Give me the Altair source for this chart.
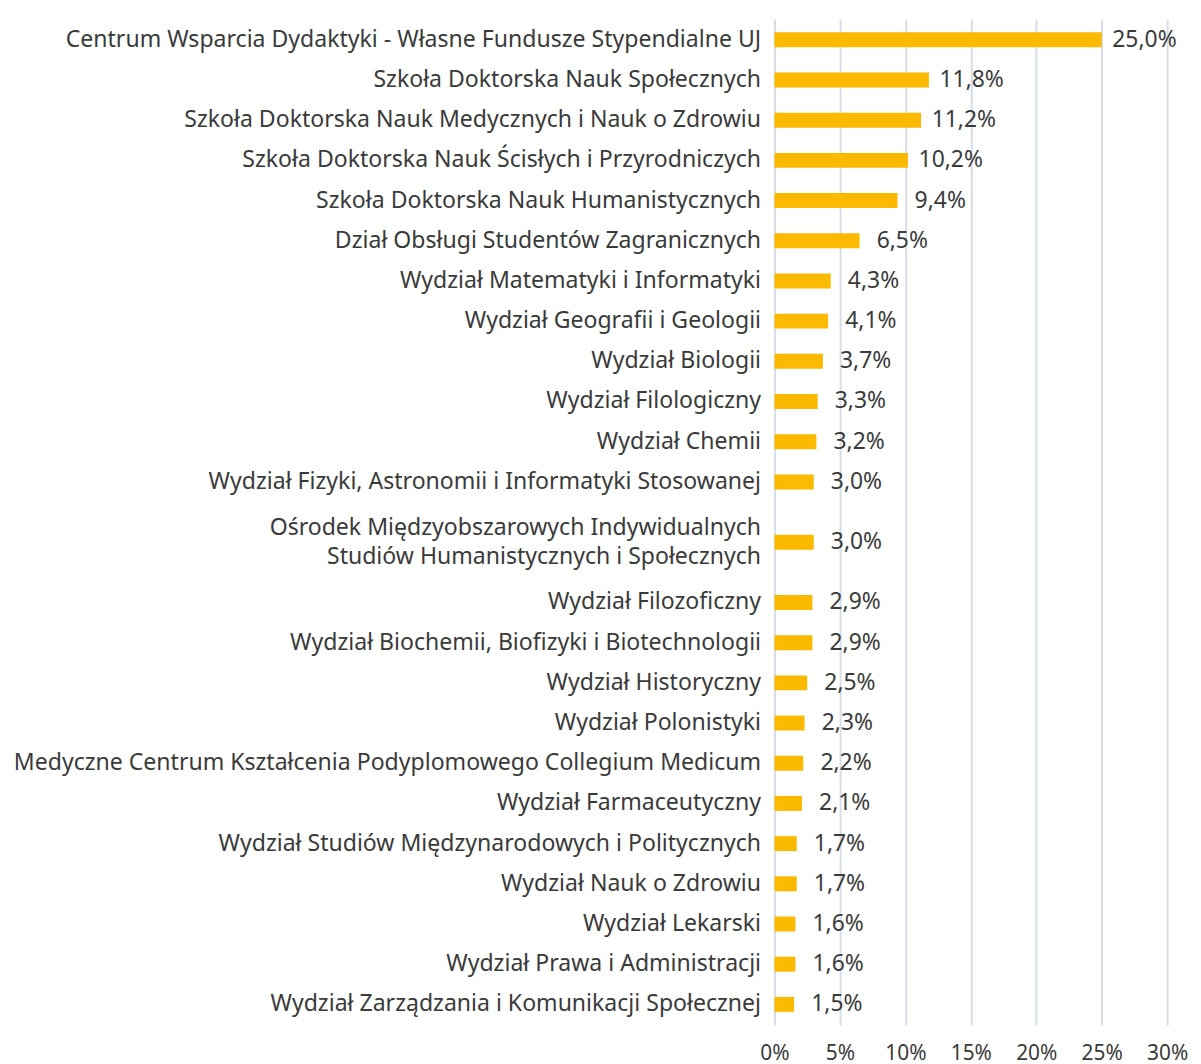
import altair as alt
import pandas as pd

categories = [
    "Centrum Wsparcia Dydaktyki - Własne Fundusze Stypendialne UJ",
    "Szkoła Doktorska Nauk Społecznych",
    "Szkoła Doktorska Nauk Medycznych i Nauk o Zdrowiu",
    "Szkoła Doktorska Nauk Ścisłych i Przyrodniczych",
    "Szkoła Doktorska Nauk Humanistycznych",
    "Dział Obsługi Studentów Zagranicznych",
    "Wydział Matematyki i Informatyki",
    "Wydział Geografii i Geologii",
    "Wydział Biologii",
    "Wydział Filologiczny",
    "Wydział Chemii",
    "Wydział Fizyki, Astronomii i Informatyki Stosowanej",
    "Ośrodek Międzyobszarowych Indywidualnych|Studiów Humanistycznych i Społecznych",
    "Wydział Filozoficzny",
    "Wydział Biochemii, Biofizyki i Biotechnologii",
    "Wydział Historyczny",
    "Wydział Polonistyki",
    "Medyczne Centrum Kształcenia Podyplomowego Collegium Medicum",
    "Wydział Farmaceutyczny",
    "Wydział Studiów Międzynarodowych i Politycznych",
    "Wydział Nauk o Zdrowiu",
    "Wydział Lekarski",
    "Wydział Prawa i Administracji",
    "Wydział Zarządzania i Komunikacji Społecznej",
]
values = [25.0, 11.8, 11.2, 10.2, 9.4, 6.5, 4.3, 4.1, 3.7, 3.3, 3.2, 3.0, 3.0,
          2.9, 2.9, 2.5, 2.3, 2.2, 2.1, 1.7, 1.7, 1.6, 1.6, 1.5]
x_ticks = [0, 0.05, 0.10, 0.15, 0.20, 0.25, 0.30]

TWO_LINE = categories[12]
SPACER = "__spacer__"
domain = categories[:13] + [SPACER] + categories[13:]

df = pd.DataFrame({"name": categories, "share": [v / 100 for v in values]})
df["label"] = [f"{v:.1f}%".replace(".", ",") for v in values]

FONT = "Noto Sans"
TEXT = "#3A3A3A"
BAR = "#FBB900"
PLOT_H = 1012
PAD_IN, PAD_OUT = 0.628, 0.33
step = PLOT_H / (len(domain) - PAD_IN + 2 * PAD_OUT)
half = step / 2

is_two = f"datum.name === '{TWO_LINE}'"
not_two = f"datum.name !== '{TWO_LINE}'"

y_scale = alt.Scale(domain=domain, paddingInner=PAD_IN, paddingOuter=PAD_OUT)

y_enc = alt.Y(
    "name:N",
    scale=y_scale,
    axis=alt.Axis(
        title=None, domain=False, ticks=False, labelFont=FONT, labelFontSize=23.2,
        labelColor=TEXT, labelPadding=14, labelLimit=0, minExtent=762, maxExtent=762,
        labelExpr=f"datum.label === '{SPACER}' ? '' : split(datum.label, '|')",
        labelLineHeight=29,
        labelOffset={"condition": {"test": "indexof(datum.label, '|') >= 0", "value": half - 14.5}, "value": 0},
    ),
)
x_enc = alt.X(
    "share:Q",
    scale=alt.Scale(domain=[0, 0.30], nice=False),
    axis=alt.Axis(
        title=None, values=x_ticks, format=".0%", domain=False, ticks=False,
        labelFont=FONT, labelFontSize=21, labelColor=TEXT, labelPadding=18,
        gridColor="#D6DEEA", gridWidth=2, labelFlush=False,
    ),
)
y_plain = alt.Y("name:N", scale=y_scale)

base = alt.Chart(df)
bars = base.transform_filter(not_two).mark_bar(color=BAR).encode(x=x_enc, y=y_enc)
bars2 = base.transform_filter(is_two).mark_bar(color=BAR, yOffset=half).encode(x="share:Q", y=y_plain)

text_kw = dict(align="center", baseline="middle", dx=43, font=FONT, fontSize=23, color=TEXT)
texts = base.transform_filter(not_two).mark_text(**text_kw).encode(x="share:Q", y=y_plain, text="label:N")
texts2 = base.transform_filter(is_two).mark_text(dy=half, **text_kw).encode(x="share:Q", y=y_plain, text="label:N")

chart = (
    alt.layer(bars, bars2, texts, texts2)
    .properties(width=395, height=PLOT_H, padding={"left": 5, "top": 8, "right": 5, "bottom": 0})
    .configure_view(stroke=None)
)

chart.save("out.html", embed_options={"renderer": "svg", "actions": False})
